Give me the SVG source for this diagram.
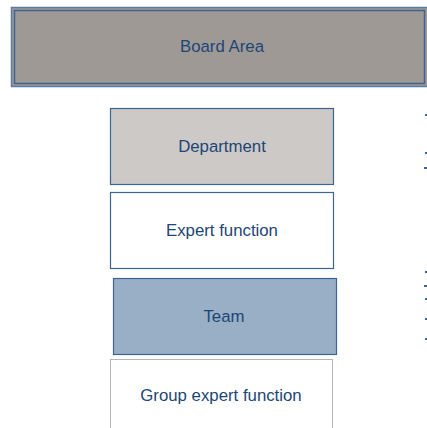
<svg xmlns="http://www.w3.org/2000/svg" width="427" height="428" viewBox="0 0 427 428">
<style>
.lbl{font-family:"Liberation Sans",Arial,sans-serif;font-size:16.8px;fill:#1c4677;text-anchor:middle}
.box{stroke:#3d6591;stroke-width:1.2}
.dot{fill:#3d6591}
</style>
<rect width="427" height="428" fill="#ffffff"/>
<g id="board">
<rect x="11.5" y="7.5" width="420" height="79" fill="#9f9996" stroke="#5a7ca3" stroke-width="1.5"/>
<rect x="14.5" y="10.5" width="410" height="73" fill="none" stroke="#3d6591" stroke-width="1.5"/>
<text class="lbl" x="222" y="52">Board Area</text>
</g>
<g id="department">
<rect class="box" x="110.5" y="108.5" width="223" height="76" fill="#cdc9c6"/>
<text class="lbl" x="222" y="152">Department</text>
</g>
<g id="expert">
<rect class="box" x="110.5" y="192.5" width="223" height="76" fill="#ffffff"/>
<text class="lbl" x="222" y="236">Expert function</text>
</g>
<g id="team">
<rect class="box" x="113.5" y="278.5" width="223" height="76" fill="#98afc6"/>
<text class="lbl" x="224" y="322">Team</text>
</g>
<g id="group">
<rect x="110.5" y="359.5" width="222" height="80" fill="#ffffff" stroke="#b5b5b5" stroke-width="1"/>
<text class="lbl" x="221" y="401">Group expert function</text>
</g>
<g id="edge-marks">
<rect class="dot" x="425" y="114" width="2" height="2"/>
<rect class="dot" x="425" y="152" width="2" height="2"/>
<rect class="dot" x="424" y="167" width="3" height="2"/>
<rect class="dot" x="425" y="271" width="2" height="2"/>
<rect class="dot" x="424" y="285" width="3" height="2"/>
<rect class="dot" x="425" y="298" width="2" height="2"/>
<rect class="dot" x="425" y="318" width="2" height="2"/>
<rect class="dot" x="425" y="338" width="2" height="2"/>
</g>
<g id="connectors"></g>
</svg>
